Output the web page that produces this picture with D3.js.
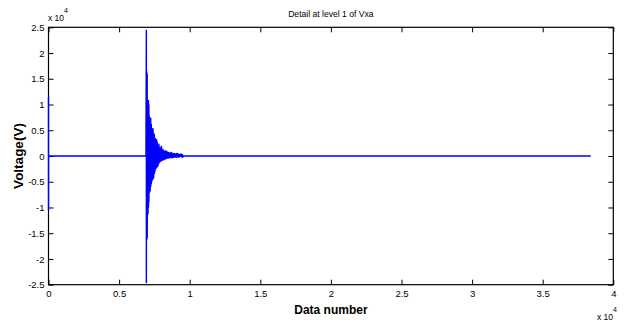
<!DOCTYPE html>
<html>
<head>
<meta charset="utf-8">
<script src="https://cdn.jsdelivr.net/npm/d3@7"></script>
<style>
  body { margin: 0; background: #fff; }
  text { font-family: "Liberation Sans", Arial, sans-serif; fill: #000; }
</style>
</head>
<body>
<div id="chart"></div>
<script>
// tick values and labels
var xTicks = [0, 5000, 10000, 15000, 20000, 25000, 30000, 35000, 40000];
var xTickLabels = ["0", "0.5", "1", "1.5", "2", "2.5", "3", "3.5", "4"];
var yTicks = [-25000, -20000, -15000, -10000, -5000, 0, 5000, 10000, 15000, 20000, 25000];
var yTickLabels = ["-2.5", "-2", "-1.5", "-1", "-0.5", "0", "0.5", "1", "1.5", "2", "2.5"];

// signal (sample index, volts)
var signalLength = 38400;
var edgeIdx = [0, 1, 3, 5];
var edgeVal = [0, 11500, -10500, 0];
var burstStart = 6900, burstEnd = 9600;
var burstIdx  = [6930, 6960, 6990, 7020, 7050, 7080, 7110, 7140, 7170, 7200, 7240, 7280, 7320, 7360,
                 7400, 7450, 7500, 7550, 7600, 7650, 7700, 7760, 7820, 7880, 7940, 8000, 8080, 8160,
                 8240, 8320, 8400, 8500, 8600, 8700, 8800, 8900, 9000, 9100, 9200, 9300, 9400, 9500];
var burstHigh = [24500, 16400, 16000, 10800, 10600, 10900, 10000, 7800, 7600, 7200, 7400, 6200, 5500, 5000,
                 5400, 4500, 4200, 3500, 3100, 3300, 2800, 2100, 2400, 1800, 1600, 2000, 1400, 1200,
                 1000, 1100, 900, 800, 700, 800, 600, 600, 500, 600, 500, 400, 500, 300];
var burstLow  = [-24700, -16300, -16000, -11500, -11200, -10000, -9000, -7200, -7000, -6800, -6000, -5500, -5000, -4700,
                 -4500, -4300, -3500, -3000, -2500, -2400, -2200, -2000, -1500, -1200, -1100, -1000, -900, -800,
                 -700, -600, -500, -500, -400, -400, -400, -300, -300, -300, -300, -200, -200, -200];

var margin = {top: 27.3, right: 12.7, bottom: 38.3, left: 48.5},
    width = 626 - margin.left - margin.right,
    height = 323 - margin.top - margin.bottom;

var svg = d3.select("#chart")
  .append("svg")
    .attr("width", 626)
    .attr("height", 323);

var g = svg.append("g")
    .attr("transform", "translate(" + margin.left + "," + margin.top + ")");

var x = d3.scaleLinear().domain([0, 40000]).range([0, width]);
var y = d3.scaleLinear().domain([-25000, 25000]).range([height, 0]);

// build the point list
var points = [];
edgeIdx.forEach(function(d, i) { points.push([d, edgeVal[i]]); });
points.push([burstStart, 0]);
burstIdx.forEach(function(d, i) {
  points.push([d, burstHigh[i]]);
  points.push([d, burstLow[i]]);
});
points.push([burstEnd, 0]);
points.push([signalLength, 0]);

// axes: ticks inside, on all four sides
function styleAxis(sel) {
  sel.select(".domain").remove();
  sel.selectAll(".tick line").attr("stroke", "#000").attr("stroke-width", 1);
  sel.selectAll(".tick text").style("font-size", "9.5px").style("font-family", "'Liberation Sans', Arial, sans-serif");
}

g.append("g")
  .attr("transform", "translate(0," + height + ")")
  .call(d3.axisBottom(x).tickValues(xTicks).tickSizeInner(-5).tickSizeOuter(0).tickPadding(6)
    .tickFormat(function(d, i) { return xTickLabels[i]; }))
  .call(styleAxis);

g.append("g")
  .call(d3.axisTop(x).tickValues(xTicks).tickSizeInner(-5).tickSizeOuter(0).tickFormat(""))
  .call(styleAxis);

g.append("g")
  .call(d3.axisLeft(y).tickValues(yTicks).tickSizeInner(-5).tickSizeOuter(0).tickPadding(4)
    .tickFormat(function(d, i) { return yTickLabels[i]; }))
  .call(styleAxis);

g.append("g")
  .attr("transform", "translate(" + width + ",0)")
  .call(d3.axisRight(y).tickValues(yTicks).tickSizeInner(-5).tickSizeOuter(0).tickFormat(""))
  .call(styleAxis);

// box
g.append("rect")
  .attr("width", width)
  .attr("height", height)
  .attr("fill", "none")
  .attr("stroke", "#000")
  .attr("stroke-width", 1.2);

// signal
var line = d3.line()
  .x(function(d) { return x(d[0]); })
  .y(function(d) { return y(d[1]); });

g.append("path")
  .datum(points)
  .attr("d", line)
  .attr("fill", "none")
  .attr("stroke", "#0000ff")
  .attr("stroke-width", 1.4);

// title
svg.append("text")
  .attr("x", margin.left + width / 2)
  .attr("y", 17)
  .attr("text-anchor", "middle")
  .style("font-size", "8.6px")
  .text("Detail at level 1 of Vxa");

// axis labels
svg.append("text")
  .attr("x", margin.left + width / 2)
  .attr("y", 314)
  .attr("text-anchor", "middle")
  .style("font-size", "12px")
  .style("font-weight", "bold")
  .text("Data number");

svg.append("text")
  .attr("transform", "translate(23," + (margin.top + height / 2) + ") rotate(-90)")
  .attr("text-anchor", "middle")
  .style("font-size", "13.5px")
  .style("font-weight", "bold")
  .text("Voltage(V)");

// exponent labels
svg.append("text").attr("x", 48).attr("y", 21).style("font-size", "8.5px").text("x 10");
svg.append("text").attr("x", 64).attr("y", 13).style("font-size", "7px").text("4");
svg.append("text").attr("x", 597).attr("y", 320).style("font-size", "8.5px").text("x 10");
svg.append("text").attr("x", 613).attr("y", 312).style("font-size", "7px").text("4");
</script>
</body>
</html>
